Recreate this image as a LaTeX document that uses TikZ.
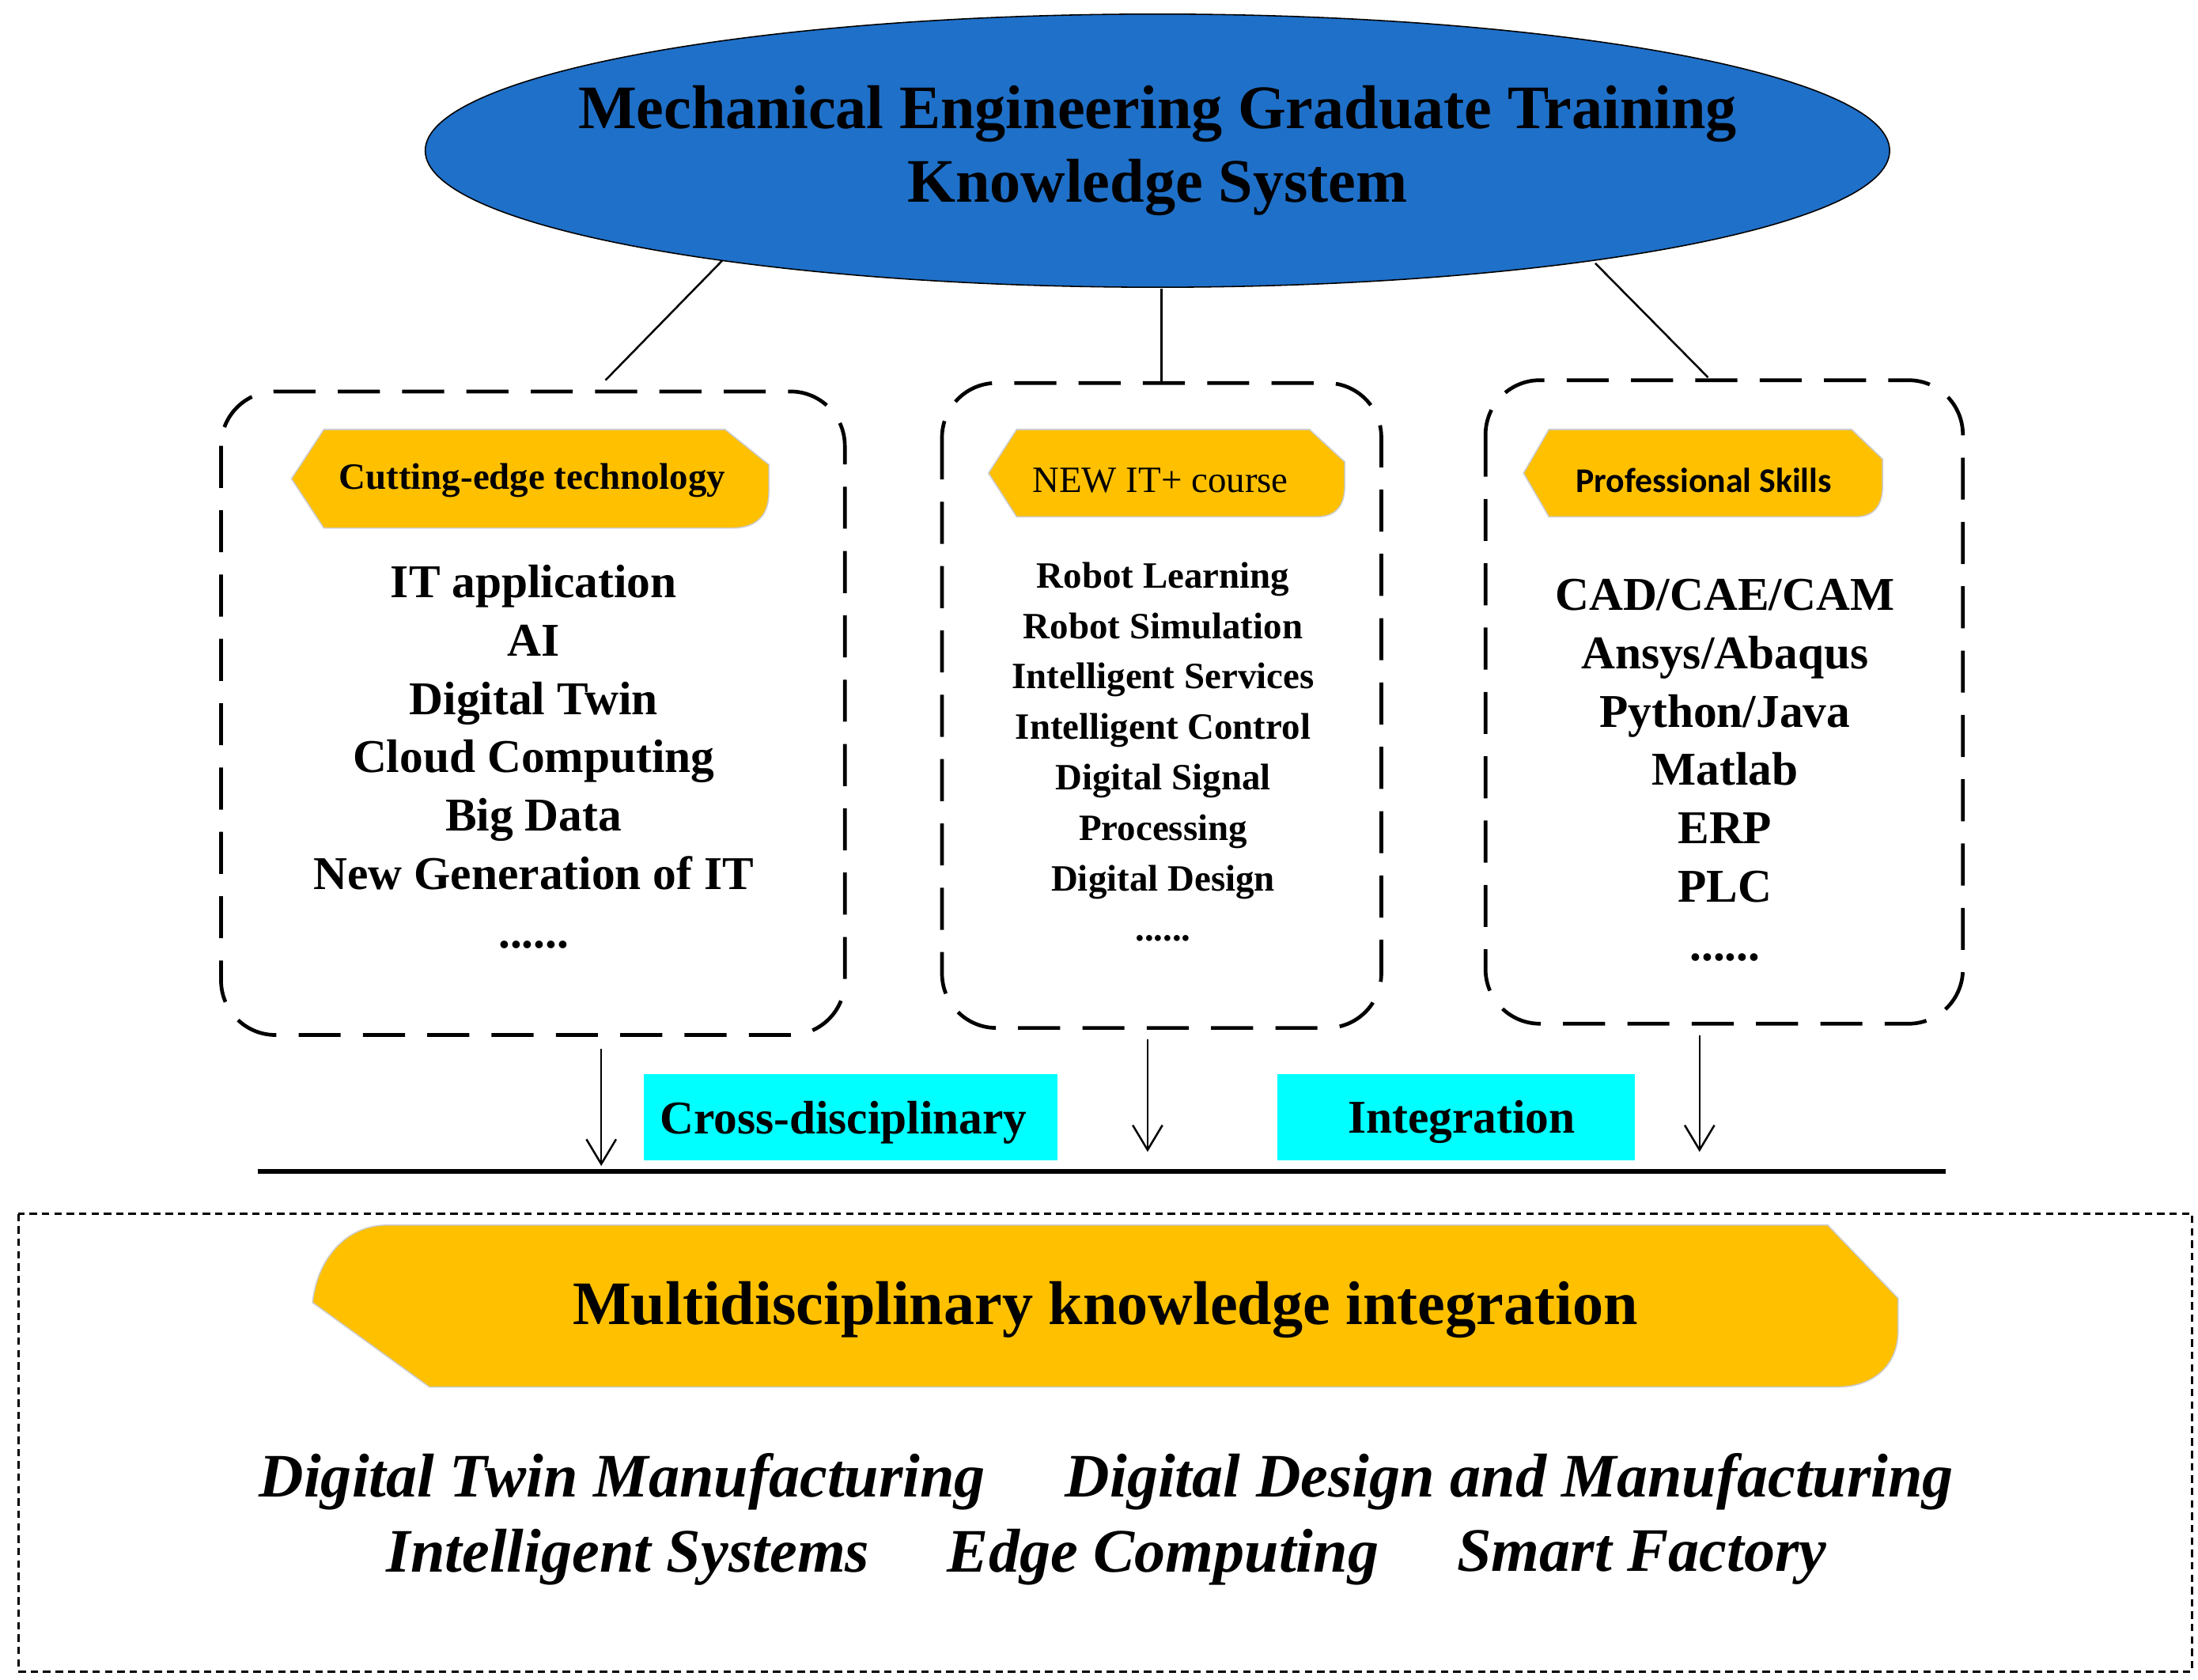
\documentclass[tikz,border=0pt]{standalone}
\usepackage{fontspec}
\setmainfont{Liberation Serif}
\newfontfamily\skillfont{Carlito}
\usetikzlibrary{arrows.meta}
\definecolor{ellblue}{RGB}{31,112,200}
\definecolor{tagyel}{RGB}{255,192,0}
\definecolor{cyanbox}{RGB}{0,255,255}
\begin{document}
\begin{tikzpicture}[x=0.02cm,y=-0.02cm,
  dbox/.style={draw,line width=1.5pt,dash pattern=on 17pt off 9pt,rounded corners=22pt},
  tag/.style={fill=tagyel,draw=black!20,line width=0.5pt},
  lst/.style={font=\bfseries,align=center},
  conn/.style={line width=0.8pt},
  arr/.style={line width=0.8pt,-{Straight Barb[length=10pt,width=12pt]}}]
\useasboundingbox (0,0) rectangle (1561,1193);
% ellipse
\fill[ellblue,draw=black,line width=0.5pt] (822,107) ellipse [x radius=520,y radius=97];
\node[font=\bfseries\fontsize{25}{30}\selectfont,align=center] (title) at (822,107) {Mechanical Engineering Graduate Training\\Knowledge System};
% boxes
\draw[dbox] (157,278) rectangle (600,735);
\draw[dbox] (669,272) rectangle (981,730);
\draw[dbox] (1055,270) rectangle (1394,727);
\coordinate (e1) at (513,185); \coordinate (b1) at (430,270);
\coordinate (e2) at (825,205); \coordinate (b2) at (825,272);
\coordinate (e3) at (1133,187); \coordinate (b3) at (1213,268);
\draw[conn] (e1) -- (b1); \draw[conn] (e2) -- (b2); \draw[conn] (e3) -- (b3);
% tags
\draw[tag] (230,305) -- (515,305) -- (546,330) -- (546,345) arc[start angle=0,end angle=90,radius=0] -- (546,350) .. controls (546,368) and (535,375) .. (520,375) -- (230,375) -- (207,340) -- cycle;
\node[font=\bfseries\fontsize{15}{18}\selectfont] (t1) at (378,341) {Cutting-edge technology};
\draw[tag] (722,305) -- (930,305) -- (955,328) -- (955,345) .. controls (955,360) and (948,367) .. (935,367) -- (722,367) -- (702,336) -- cycle;
\node[font=\fontsize{15}{18}\selectfont] (t2) at (824,341) {NEW IT+ course};
\draw[tag] (1100,305) -- (1315,305) -- (1337,326) -- (1337,345) .. controls (1337,360) and (1330,367) .. (1318,367) -- (1100,367) -- (1082,336) -- cycle;
\node[font=\skillfont\bfseries\fontsize{14}{17}\selectfont] (t3) at (1210,341) {Professional Skills};
% lists
\node[lst,font=\bfseries\fontsize{19}{23.6}\selectfont,anchor=north] (l1) at (379,395) {IT application\\AI\\Digital Twin\\Cloud Computing\\Big Data\\New Generation of IT\\......};
\node[lst,font=\bfseries\fontsize{15}{20.4}\selectfont,anchor=north] (l2) at (826,393) {Robot Learning\\Robot Simulation\\Intelligent Services\\Intelligent Control\\Digital Signal\\Processing\\Digital Design\\......};
\node[lst,font=\bfseries\fontsize{19}{23.6}\selectfont,anchor=north] (l3) at (1225,405) {CAD/CAE/CAM\\Ansys/Abaqus\\Python/Java\\Matlab\\ERP\\PLC\\......};
% arrows
\coordinate (a1s) at (427,745); \coordinate (a1e) at (427,828);
\coordinate (a2s) at (815,738); \coordinate (a2e) at (815,818);
\coordinate (a3s) at (1207,735); \coordinate (a3e) at (1207,818);
\draw[arr] (a1s) -- (a1e); \draw[arr] (a2s) -- (a2e); \draw[arr] (a3s) -- (a3e);
% cyan labels
\fill[cyanbox] (457,763) rectangle (751,824);
\node[font=\bfseries\fontsize{19}{23}\selectfont] (c1) at (599,797) {Cross-disciplinary};
\fill[cyanbox] (907,763) rectangle (1161,824);
\node[font=\bfseries\fontsize{19}{23}\selectfont] (c2) at (1038,797) {Integration};
\coordinate (hl1) at (183,832); \coordinate (hl2) at (1382,832);
\draw[line width=2pt] (hl1) -- (hl2);
% bottom box
\draw[line width=1pt,dash pattern=on 3pt off 2pt] (13,862) rectangle (1557,1187);
\draw[tag] (275,870) -- (1298,870) -- (1348,922) -- (1348,945) .. controls (1348,970) and (1330,985) .. (1305,985) -- (305,985) -- (222,925) .. controls (225,895) and (245,870) .. (275,870) -- cycle;
\node[font=\bfseries\fontsize{25}{30}\selectfont] (mk) at (785,930) {Multidisciplinary knowledge integration};
\node[font=\bfseries\itshape\fontsize{25}{30}\selectfont] (i1) at (442,1052) {Digital Twin Manufacturing};
\node[font=\bfseries\itshape\fontsize{25}{30}\selectfont] (i2) at (1072,1052) {Digital Design and Manufacturing};
\node[font=\bfseries\itshape\fontsize{25}{30}\selectfont] (i3) at (446,1106) {Intelligent Systems};
\node[font=\bfseries\itshape\fontsize{25}{30}\selectfont] (i4) at (826,1106) {Edge Computing};
\node[font=\bfseries\itshape\fontsize{25}{30}\selectfont] (i5) at (1166,1106) {Smart Factory};
\end{tikzpicture}
\end{document}
